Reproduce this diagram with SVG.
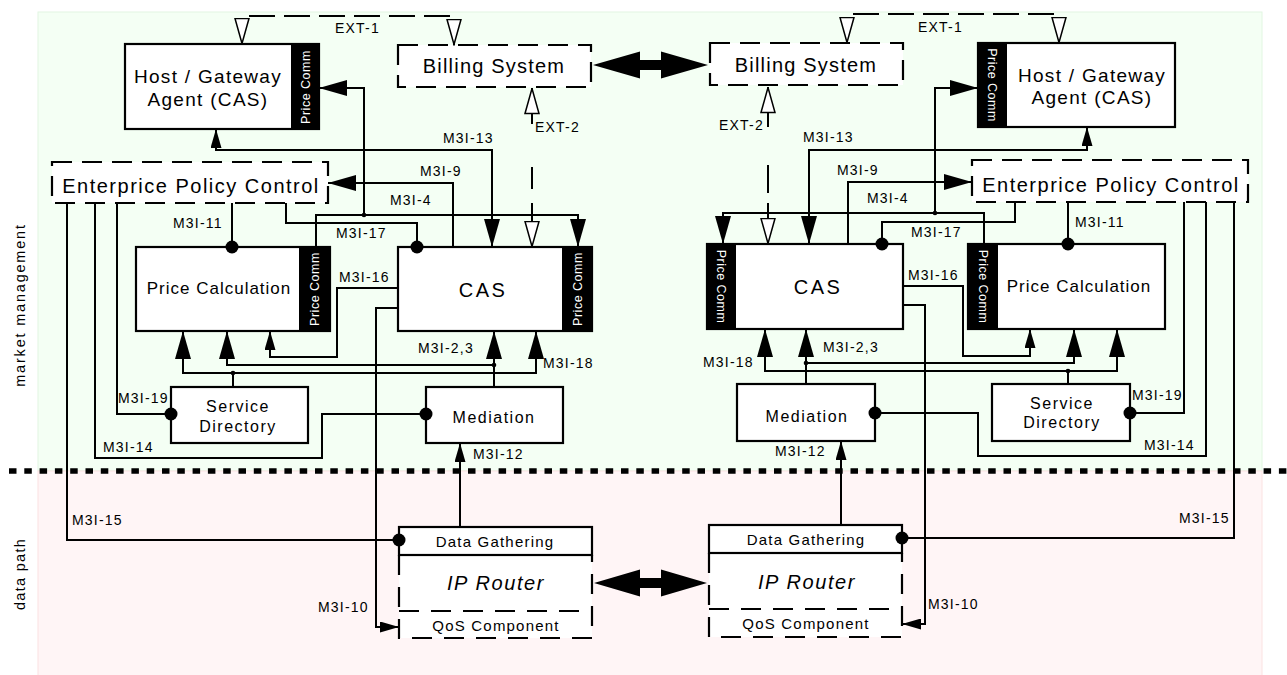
<svg xmlns="http://www.w3.org/2000/svg" width="1287" height="675" viewBox="0 0 1287 675">
<defs>
<style>
text{font-family:"Liberation Sans",Arial,Helvetica,sans-serif;fill:#000}
.ln{fill:none;stroke:#000;stroke-width:2}
.dl{fill:none;stroke:#000;stroke-width:2;stroke-dasharray:26 9}
.box{fill:#fff;stroke:#000;stroke-width:2.2}
.dbox{fill:#fff;stroke:#000;stroke-width:2.2;stroke-dasharray:20 10}
.dbx{fill:none;stroke:#000;stroke-width:2.2;stroke-dasharray:20 12}
.strip{fill:#000}
.pc{font-size:12.5px;letter-spacing:0.5px;fill:#fff;text-anchor:middle}
.lbl{font-size:14px;letter-spacing:1.2px}
.t19{font-size:19px;letter-spacing:1.3px;text-anchor:middle}
.t20{font-size:20px;letter-spacing:1.2px;text-anchor:middle}
.epc{font-size:20px;letter-spacing:1.5px;text-anchor:middle}
.t17{font-size:17px;letter-spacing:1px;text-anchor:middle}
.cas{font-size:20px;letter-spacing:2.5px;text-anchor:middle}
.t16{font-size:16px;letter-spacing:1.5px;text-anchor:middle}
.t15{font-size:15px;letter-spacing:1.2px;text-anchor:middle}
.ipr{font-size:20px;letter-spacing:1.6px;font-style:italic;text-anchor:middle}
.side{font-size:14.5px;text-anchor:middle}
.jn{fill:#000}
.dbl{fill:#000}
</style>
<marker id="big" markerUnits="userSpaceOnUse" viewBox="0 0 28 16" markerWidth="28" markerHeight="16" refX="28" refY="8" orient="auto-start-reverse"><path d="M0,0 L28,8 L0,16 Z" fill="#000"/></marker>
<marker id="sm" markerUnits="userSpaceOnUse" viewBox="0 0 19 11" markerWidth="19" markerHeight="11" refX="19" refY="5.5" orient="auto-start-reverse"><path d="M0,0 L19,5.5 L0,11 Z" fill="#000"/></marker>
<marker id="hol" markerUnits="userSpaceOnUse" viewBox="0 0 27 16" markerWidth="27" markerHeight="16" refX="26.5" refY="8" orient="auto-start-reverse"><path d="M1,1 L26,8 L1,15 Z" fill="#fff" stroke="#000" stroke-width="1.5"/></marker>
<marker id="dot" markerUnits="userSpaceOnUse" viewBox="0 0 14 14" markerWidth="14" markerHeight="14" refX="7" refY="7" orient="auto"><circle cx="7" cy="7" r="6.5" fill="#000"/></marker>
</defs>

<g id="background">
<rect x="38" y="12" width="1224" height="459" fill="#f4fff4" stroke="#e2f6e2" stroke-width="1"/>
<rect x="38" y="471" width="1224" height="210" fill="#fff5f6" stroke="#fbe2e2" stroke-width="1"/>
<line x1="9" y1="471" x2="1287" y2="471" stroke="#000" stroke-width="5.5" stroke-dasharray="7.5 7.8"/>
<text class="side" transform="translate(25,305) rotate(-90)" style="letter-spacing:1.8px">market management</text>
<text class="side" transform="translate(25,574) rotate(-90)" style="letter-spacing:1.3px">data path</text>
</g>

<!-- LEFT NODES -->
<g id="host-left">
<rect class="box" x="125" y="44" width="194" height="85"/>
<rect class="strip" x="291" y="44" width="28" height="85"/>
<text class="pc" transform="translate(309.5,87) rotate(-90)">Price Comm</text>
<text class="t19" x="208" y="83">Host / Gateway</text>
<text class="t19" x="208" y="106">Agent (CAS)</text>
</g>
<g id="billing-left">
<rect class="dbox" x="398" y="45" width="193" height="42"/>
<text class="t20" x="494" y="73">Billing System</text>
</g>
<g id="epc-left">
<rect class="dbox" x="52" y="162" width="276" height="41"/>
<text class="epc" x="191" y="193">Enterprice Policy Control</text>
</g>
<g id="pricecalc-left">
<rect class="box" x="136" y="247" width="194" height="84"/>
<rect class="strip" x="299" y="247" width="31" height="84"/>
<text class="pc" transform="translate(319,289) rotate(-90)">Price Comm</text>
<text class="t17" x="219" y="294">Price Calculation</text>
</g>
<g id="cas-left">
<rect class="box" x="398" y="247" width="194" height="84"/>
<rect class="strip" x="562" y="247" width="30" height="84"/>
<text class="pc" transform="translate(581.5,289) rotate(-90)">Price Comm</text>
<text class="cas" x="483" y="297">CAS</text>
</g>
<g id="servdir-left">
<rect class="box" x="171" y="387" width="137" height="56"/>
<text class="t16" x="238" y="412">Service</text>
<text class="t16" x="238" y="432">Directory</text>
</g>
<g id="mediation-left">
<rect class="box" x="426" y="387" width="137" height="56"/>
<text class="t16" x="494" y="423">Mediation</text>
</g>
<g id="iprouter-left">
<rect x="399" y="555" width="193" height="83" fill="#fff"/>
<path class="dbx" d="M399,555 V638 H592 V555"/>
<path class="dbx" d="M399,611 H592"/>
<rect class="box" x="399" y="527" width="193" height="28"/>
<text class="t15" x="495" y="547">Data Gathering</text>
<text class="ipr" x="496" y="590">IP Router</text>
<text class="t15" x="496" y="631">QoS Component</text>
</g>

<!-- RIGHT NODES -->
<g id="host-right">
<rect class="box" x="978" y="43" width="197" height="84"/>
<rect class="strip" x="978" y="43" width="29" height="84"/>
<text class="pc" transform="translate(988,85) rotate(90)">Price Comm</text>
<text class="t19" x="1092" y="82">Host / Gateway</text>
<text class="t19" x="1092" y="104">Agent (CAS)</text>
</g>
<g id="billing-right">
<rect class="dbox" x="710" y="43" width="193" height="42"/>
<text class="t20" x="806" y="72">Billing System</text>
</g>
<g id="epc-right">
<rect class="dbox" x="972" y="160" width="276" height="42"/>
<text class="epc" x="1111" y="192">Enterprice Policy Control</text>
</g>
<g id="cas-right">
<rect class="box" x="707" y="244" width="196" height="85"/>
<rect class="strip" x="707" y="244" width="29" height="85"/>
<text class="pc" transform="translate(717,286.5) rotate(90)">Price Comm</text>
<text class="cas" x="818" y="294">CAS</text>
</g>
<g id="pricecalc-right">
<rect class="box" x="968" y="244" width="197" height="85"/>
<rect class="strip" x="968" y="244" width="30" height="85"/>
<text class="pc" transform="translate(978.5,286.5) rotate(90)">Price Comm</text>
<text class="t17" x="1079" y="292">Price Calculation</text>
</g>
<g id="servdir-right">
<rect class="box" x="992" y="384" width="138" height="57"/>
<text class="t16" x="1062" y="409">Service</text>
<text class="t16" x="1062" y="428">Directory</text>
</g>
<g id="mediation-right">
<rect class="box" x="737" y="384" width="138" height="57"/>
<text class="t16" x="807" y="422">Mediation</text>
</g>
<g id="iprouter-right">
<rect x="709" y="553" width="193" height="84" fill="#fff"/>
<path class="dbx" d="M709,553 V637 H902 V553"/>
<path class="dbx" d="M709,609 H902"/>
<rect class="box" x="709" y="525" width="193" height="28"/>
<text class="t15" x="806" y="545">Data Gathering</text>
<text class="ipr" x="807" y="589">IP Router</text>
<text class="t15" x="806" y="629">QoS Component</text>
</g>

<g id="connectors">
<!-- left -->
<path class="dl" d="M242,44 V16 H454 V45" marker-start="url(#hol)" marker-end="url(#hol)"/>
<path class="ln" d="M532,88 V124 M532,167 V189 M532,203 V247" marker-start="url(#hol)" marker-end="url(#hol)"/>
<path class="ln" d="M216,129 V150 H492 V247" marker-start="url(#sm)" marker-end="url(#big)"/>
<path class="ln" d="M453,247 V183 H328" marker-end="url(#big)"/>
<path class="ln" d="M364,215 V88 H319" marker-end="url(#big)"/>
<path class="ln" d="M316,247 V215 H578 V247" marker-end="url(#big)"/>
<path class="ln" d="M286,203 V223 H417 V247" marker-end="url(#dot)"/>
<path class="ln" d="M232,203 V247" marker-end="url(#dot)"/>
<path class="ln" d="M117,203 V414 H171" marker-end="url(#dot)"/>
<path class="ln" d="M95,203 V458 H322 V414 H426" marker-end="url(#dot)"/>
<path class="ln" d="M67,203 V540 H399" marker-end="url(#dot)"/>
<path class="ln" d="M398,288 H337 V357 H270 V331" marker-end="url(#sm)"/>
<path class="ln" d="M398,308 H376 V627 H399" marker-end="url(#sm)"/>
<path class="ln" d="M494,387 V331" marker-end="url(#big)"/>
<path class="ln" d="M494,365 H227 V331" marker-end="url(#big)"/>
<path class="ln" d="M183,331 V373 H536 V331" marker-start="url(#big)" marker-end="url(#big)"/>
<path class="ln" d="M233,387 V373"/>
<path class="ln" d="M460,527 V443" marker-end="url(#sm)"/>
<circle class="jn" cx="364" cy="215" r="2.3"/>
<circle class="jn" cx="494" cy="365" r="2.3"/>
<circle class="jn" cx="233" cy="373" r="2.3"/>
<!-- right -->
<path class="dl" d="M847,43 V14 H1059 V43" marker-start="url(#hol)" marker-end="url(#hol)"/>
<path class="ln" d="M768,87 V127 M768,165 V193 M768,203 V244" marker-start="url(#hol)" marker-end="url(#hol)"/>
<path class="ln" d="M1087,127 V150 H809 V244" marker-start="url(#sm)" marker-end="url(#big)"/>
<path class="ln" d="M848,244 V182 H972" marker-end="url(#big)"/>
<path class="ln" d="M935,213 V88 H978" marker-end="url(#big)"/>
<path class="ln" d="M984,244 V213 H723 V244" marker-end="url(#big)"/>
<path class="ln" d="M1015,202 V222 H882 V244" marker-end="url(#dot)"/>
<path class="ln" d="M1068,202 V244" marker-end="url(#dot)"/>
<path class="ln" d="M1184,202 V413 H1130" marker-end="url(#dot)"/>
<path class="ln" d="M1206,202 V456 H978 V413 H875" marker-end="url(#dot)"/>
<path class="ln" d="M1234,202 V538 H902" marker-end="url(#dot)"/>
<path class="ln" d="M903,286 H963 V356 H1030 V329" marker-end="url(#sm)"/>
<path class="ln" d="M903,305 H925 V624 H902" marker-end="url(#sm)"/>
<path class="ln" d="M806,384 V329" marker-end="url(#big)"/>
<path class="ln" d="M806,363 H1074 V329" marker-end="url(#big)"/>
<path class="ln" d="M765,329 V371 H1117 V329" marker-start="url(#big)" marker-end="url(#big)"/>
<path class="ln" d="M1068,384 V371"/>
<path class="ln" d="M841,525 V441" marker-end="url(#sm)"/>
<circle class="jn" cx="935" cy="213" r="2.3"/>
<circle class="jn" cx="806" cy="363" r="2.3"/>
<circle class="jn" cx="1068" cy="371" r="2.3"/>
<!-- double arrows -->
<polygon class="dbl" points="593,65 640,51.5 640,60 661,60 661,51.5 708,65 661,78.5 661,70 640,70 640,78.5"/>
<polygon class="dbl" points="594,583 640,569.5 640,578 661,578 661,569.5 707,583 661,596.5 661,588 640,588 640,596.5"/>
<!-- labels left -->
<text class="lbl" x="335" y="33">EXT-1</text>
<text class="lbl" x="535" y="132">EXT-2</text>
<text class="lbl" x="443" y="143">M3I-13</text>
<text class="lbl" x="420" y="176">M3I-9</text>
<text class="lbl" x="390" y="205">M3I-4</text>
<text class="lbl" x="336" y="238">M3I-17</text>
<text class="lbl" x="173" y="228">M3I-11</text>
<text class="lbl" x="339" y="282">M3I-16</text>
<text class="lbl" x="418" y="353">M3I-2,3</text>
<text class="lbl" x="543" y="368">M3I-18</text>
<text class="lbl" x="118" y="403">M3I-19</text>
<text class="lbl" x="103" y="452">M3I-14</text>
<text class="lbl" x="473" y="459">M3I-12</text>
<text class="lbl" x="72" y="525">M3I-15</text>
<text class="lbl" x="318" y="612">M3I-10</text>
<!-- labels right -->
<text class="lbl" x="918" y="32">EXT-1</text>
<text class="lbl" x="719" y="130">EXT-2</text>
<text class="lbl" x="803" y="142">M3I-13</text>
<text class="lbl" x="837" y="175">M3I-9</text>
<text class="lbl" x="867" y="203">M3I-4</text>
<text class="lbl" x="911" y="237">M3I-17</text>
<text class="lbl" x="1075" y="227">M3I-11</text>
<text class="lbl" x="908" y="280">M3I-16</text>
<text class="lbl" x="823" y="352">M3I-2,3</text>
<text class="lbl" x="703" y="367">M3I-18</text>
<text class="lbl" x="1132" y="400">M3I-19</text>
<text class="lbl" x="1144" y="450">M3I-14</text>
<text class="lbl" x="775" y="456">M3I-12</text>
<text class="lbl" x="1179" y="523">M3I-15</text>
<text class="lbl" x="928" y="609">M3I-10</text>
</g>
</svg>
